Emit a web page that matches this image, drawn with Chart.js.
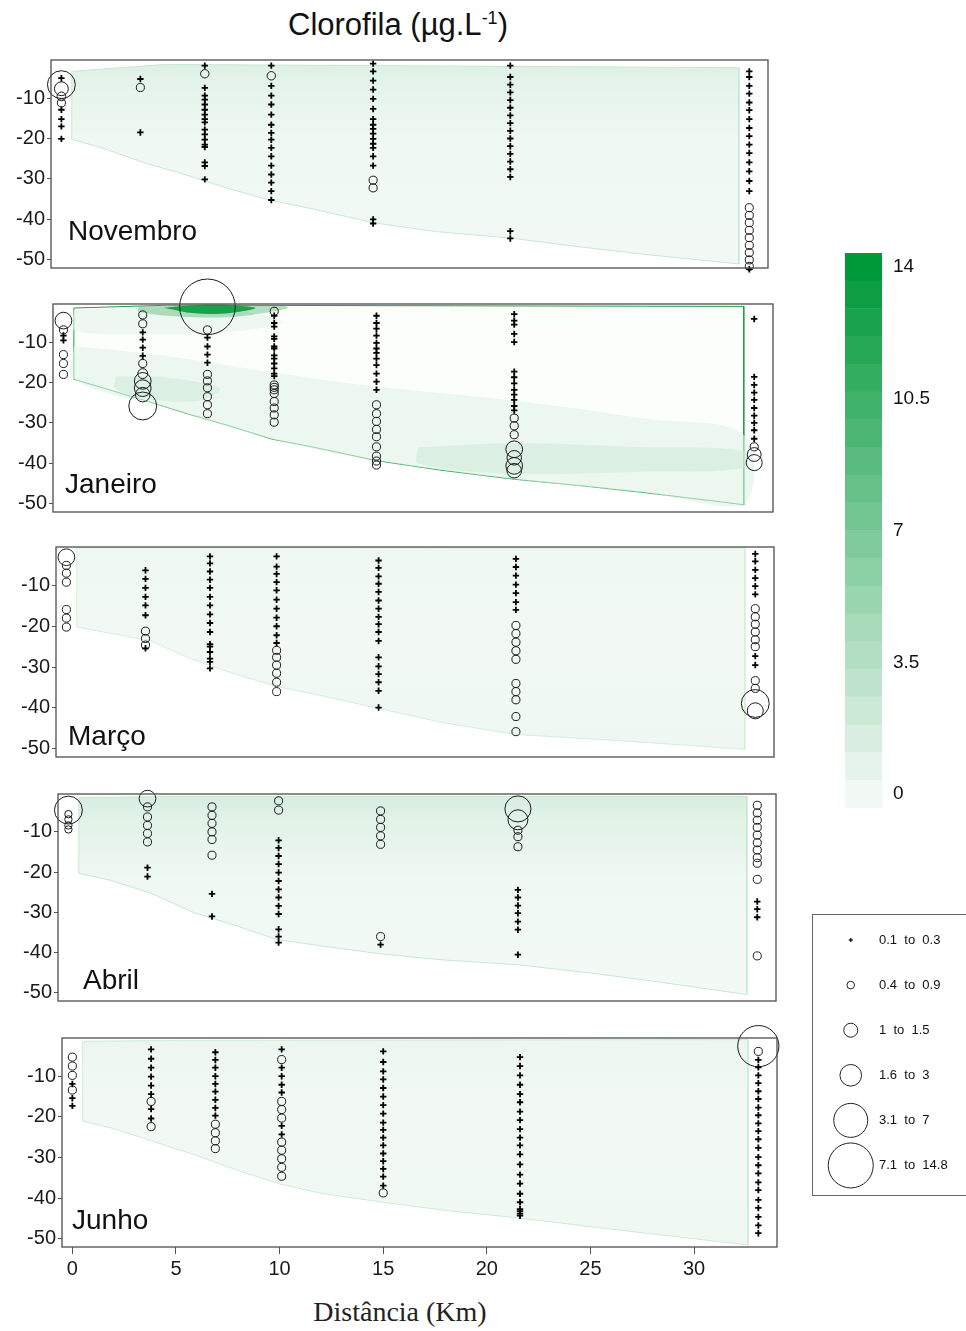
<!DOCTYPE html>
<html>
<head>
<meta charset="utf-8">
<script src="https://cdn.jsdelivr.net/npm/chart.js"></script>
<style>
    body { margin: 0; width: 966px; height: 1331px; position: relative; overflow: hidden; background: #fff; font-family: Arial, "Liberation Sans", sans-serif; }
    canvas { position: absolute; }
    #title { position: absolute; left: 0; width: 796px; top: 0px; line-height: 36px; text-align: center; font-size: 31px; color: #111; }
    #title sup { font-size: 18px; }
    #xlabel { position: absolute; left: 0; width: 800px; top: 1296px; text-align: center; font-family: "Liberation Serif", "Times New Roman", serif; font-size: 28px; color: #222; }
    #legendFrame { position: absolute; left: 812px; top: 914px; width: 220px; height: 280px; border: 1px solid #666; }
</style>
</head>
<body>
<div id="title">Clorofila (µg.L<sup>-1</sup>)</div>
<div id="xlabel">Distância (Km)</div>
<div id="legendFrame"></div>

<script>
// Station positions along the transect (km)
const stationKm = [0, 3.8, 6.9, 10.1, 15, 21.6, 33.1];

// Axis ticks
const kmTicks = [0, 5, 10, 15, 20, 25, 30];
const depthTicks = [-10, -20, -30, -40, -50];

// Samples per station, [depth (m), chlorophyll (µg/L)]
const novSamples = [
    [[-5.1,.2],[-6.7,6.3],[-7.7,2.4],[-9.6,1.0],[-11.2,.8],[-12.9,.2],[-15.2,.2],[-17.0,.2],[-20.1,.2]],
    [[-5.3,.2],[-7.4,.8],[-18.5,.2]],
    [[-2.0,.2],[-4.0,.9],[-7.5,.2],[-9.4,.2],[-10.4,.2],[-11.6,.2],[-12.9,.2],[-14.1,.2],[-15.2,.2],[-16.0,.2],[-17.8,.2],[-19.0,.2],[-20.3,.2],[-21.5,.2],[-22.1,.2],[-25.9,.2],[-26.8,.2],[-30.1,.2]],
    [[-2.0,.2],[-4.5,.9],[-7.0,.2],[-9.4,.2],[-11.6,.2],[-14.1,.2],[-16.6,.2],[-18.6,.2],[-20.3,.2],[-22.3,.2],[-24.4,.2],[-26.7,.2],[-28.9,.2],[-30.9,.2],[-33.0,.2],[-35.2,.2]],
    [[-1.5,.2],[-3.4,.2],[-5.7,.2],[-7.9,.2],[-10.2,.2],[-12.7,.2],[-15.2,.2],[-16.6,.2],[-17.6,.2],[-18.8,.2],[-20.1,.2],[-21.3,.2],[-22.3,.2],[-24.4,.2],[-26.7,.2],[-30.3,.8],[-32.2,.8],[-40.0,.2],[-41.0,.2]],
    [[-2.0,.2],[-4.8,.2],[-6.7,.2],[-8.6,.2],[-10.5,.2],[-12.4,.2],[-14.3,.2],[-16.2,.2],[-18.1,.2],[-20.0,.2],[-21.9,.2],[-23.8,.2],[-25.7,.2],[-27.6,.2],[-29.5,.2],[-42.9,.2],[-44.7,.2]],
    [[-3.4,.2],[-4.8,.2],[-7.0,.2],[-8.9,.2],[-11.1,.2],[-13.0,.2],[-15.2,.2],[-17.4,.2],[-19.4,.2],[-21.5,.2],[-23.6,.2],[-25.9,.2],[-28.1,.2],[-30.5,.2],[-33.0,.2],[-37.1,.8],[-39.0,.8],[-40.8,.8],[-42.7,.8],[-44.5,.8],[-46.4,.8],[-48.2,.8],[-50.0,.8],[-51.6,.8],[-52.3,.2]]
];

const janSamples = [
    [[-4.7,3.2],[-7.0,.8],[-8.4,.2],[-9.6,.2],[-13.1,.8],[-15.3,.8],[-18.0,.8]],
    [[-3.3,.8],[-5.5,.8],[-7.6,.2],[-9.4,.2],[-11.4,.2],[-13.4,.2],[-15.3,.8],[-17.8,1.3],[-19.6,3.2],[-21.4,3.2],[-23.0,2.6],[-25.8,6.3]],
    [[-1.3,14],[-7.0,.8],[-8.9,.2],[-11.1,.2],[-13.1,.2],[-15.1,.2],[-18.0,.8],[-19.6,.8],[-21.3,.8],[-23.5,.8],[-25.5,.8],[-27.7,.8]],
    [[-2.4,.8],[-3.5,.2],[-5.3,.2],[-6.2,.2],[-8.6,.2],[-9.2,.2],[-11.1,.2],[-11.6,.2],[-13.3,.2],[-14.1,.2],[-15.3,.2],[-16.5,.2],[-17.8,.2],[-18.4,.2],[-20.6,.8],[-21.2,.8],[-21.8,.8],[-22.7,.8],[-24.7,.8],[-26.3,.8],[-28.0,.8],[-29.8,.8]],
    [[-3.5,.2],[-5.3,.2],[-6.7,.2],[-8.4,.2],[-10.2,.2],[-11.6,.2],[-12.7,.2],[-14.1,.2],[-15.7,.2],[-17.8,.2],[-19.8,.2],[-21.8,.2],[-25.5,.8],[-27.7,.8],[-29.6,.8],[-31.6,.8],[-33.4,.8],[-35.9,.8],[-38.2,.8],[-39.4,.8],[-40.4,.8]],
    [[-3.1,.2],[-4.7,.2],[-5.7,.2],[-8.0,.2],[-10.0,.2],[-17.3,.2],[-18.7,.2],[-20.2,.2],[-21.8,.2],[-23.0,.2],[-24.3,.2],[-25.8,.2],[-26.9,.2],[-28.8,.8],[-30.7,.8],[-32.9,.8],[-36.5,3.2],[-38.6,2.6],[-40.6,3.2],[-41.8,2.6]],
    [[-4.3,.2],[-18.6,.2],[-20.6,.2],[-22.5,.2],[-24.3,.2],[-26.3,.2],[-28.2,.2],[-30.0,.2],[-31.8,.2],[-33.9,.2],[-35.9,.8],[-37.8,2.4],[-39.8,3.0]]
];

const marSamples = [
    [[-3.1,3.2],[-5.1,.8],[-7.0,.8],[-9.2,.8],[-15.9,.8],[-18.0,.8],[-20.2,.8]],
    [[-6.3,.2],[-8.4,.2],[-10.6,.2],[-12.8,.2],[-14.9,.2],[-17.3,.2],[-21.2,.8],[-23.0,.8],[-24.6,.8],[-25.4,.2]],
    [[-2.9,.2],[-4.6,.2],[-6.6,.2],[-8.6,.2],[-10.6,.2],[-12.8,.2],[-14.9,.2],[-17.1,.2],[-19.2,.2],[-21.4,.2],[-24.4,.2],[-25.0,.2],[-26.3,.2],[-27.9,.2],[-28.7,.2],[-30.3,.2]],
    [[-2.9,.2],[-5.4,.2],[-7.2,.2],[-9.2,.2],[-11.2,.2],[-13.5,.2],[-15.7,.2],[-17.9,.2],[-20.0,.2],[-22.2,.2],[-24.1,.2],[-25.9,.8],[-27.6,.8],[-29.5,.8],[-31.5,.8],[-33.7,.8],[-36.0,.8]],
    [[-3.9,.2],[-5.7,.2],[-7.8,.2],[-9.6,.2],[-11.6,.2],[-13.7,.2],[-15.7,.2],[-17.7,.2],[-19.5,.2],[-21.4,.2],[-23.6,.2],[-27.6,.2],[-29.8,.2],[-31.7,.2],[-33.7,.2],[-35.8,.2],[-39.9,.2]],
    [[-3.5,.2],[-5.5,.2],[-7.6,.2],[-9.8,.2],[-11.9,.2],[-14.1,.2],[-16.0,.2],[-19.8,.8],[-21.8,.8],[-23.9,.8],[-26.0,.8],[-28.1,.8],[-34.0,.8],[-36.0,.8],[-38.0,.8],[-42.1,.8],[-45.8,.8]],
    [[-2.3,.2],[-4.1,.2],[-6.2,.2],[-8.2,.2],[-10.2,.2],[-12.2,.2],[-15.7,.8],[-17.7,.8],[-19.5,.8],[-21.4,.8],[-23.3,.8],[-25.0,.8],[-27.3,.2],[-29.5,.2],[-33.3,.8],[-35.2,.8],[-38.9,6.3],[-40.7,3.0]]
];

const abrSamples = [
    [[-4.6,6.3],[-5.6,.6],[-6.9,.6],[-8.4,.6],[-9.4,.6]],
    [[-1.75,3.2],[-3.8,.8],[-6.3,.8],[-8.4,.8],[-10.4,.8],[-12.5,.8],[-18.9,.2],[-21.1,.2]],
    [[-3.8,.8],[-5.9,.8],[-7.9,.8],[-10.0,.8],[-11.9,.8],[-15.8,.8],[-25.4,.2],[-31.0,.2]],
    [[-2.3,.8],[-4.6,.8],[-12.1,.2],[-14.0,.2],[-16.0,.2],[-18.0,.2],[-20.1,.2],[-22.2,.2],[-24.3,.2],[-26.3,.2],[-28.4,.2],[-30.4,.2],[-34.2,.2],[-36.0,.2],[-37.5,.2]],
    [[-4.8,.8],[-6.9,.8],[-8.9,.8],[-11.0,.8],[-13.1,.8],[-36.0,.8],[-38.0,.2]],
    [[-4.3,5.8],[-7.0,4.1],[-9.6,.8],[-11.2,.8],[-13.7,.8],[-24.4,.2],[-26.3,.2],[-28.3,.2],[-30.2,.2],[-32.3,.2],[-34.3,.2],[-40.5,.2]],
    [[-3.4,.8],[-5.3,.8],[-7.1,.8],[-8.9,.8],[-10.8,.8],[-12.7,.8],[-14.5,.8],[-16.4,.8],[-17.8,.8],[-21.8,.8],[-27.3,.2],[-29.2,.2],[-31.2,.2],[-40.8,.8]]
];

const junSamples = [
    [[-5.3,.8],[-7.5,.8],[-9.8,.8],[-11.9,.2],[-13.4,.8],[-15.4,.2],[-17.3,.2]],
    [[-3.4,.2],[-5.7,.2],[-7.9,.2],[-10.1,.2],[-12.3,.2],[-14.4,.2],[-16.2,.8],[-18.1,.2],[-20.4,.2],[-22.4,.8]],
    [[-4.1,.2],[-6.0,.2],[-7.9,.2],[-10.0,.2],[-11.9,.2],[-13.8,.2],[-15.8,.2],[-17.8,.2],[-19.7,.2],[-21.8,.8],[-23.9,.8],[-25.9,.8],[-27.8,.8]],
    [[-3.4,.2],[-5.9,.8],[-7.9,.2],[-10.0,.2],[-12.1,.2],[-14.0,.2],[-16.2,.8],[-18.2,.8],[-20.3,.8],[-22.2,.2],[-24.3,.2],[-26.2,.8],[-28.2,.8],[-30.3,.8],[-32.4,.8],[-34.6,.8]],
    [[-3.9,.2],[-6.5,.2],[-8.8,.2],[-10.8,.2],[-12.9,.2],[-15.0,.2],[-17.1,.2],[-19.2,.2],[-21.4,.2],[-23.2,.2],[-25.1,.2],[-27.0,.2],[-29.0,.2],[-30.9,.2],[-32.8,.2],[-34.7,.2],[-36.9,.2],[-38.7,.8]],
    [[-5.3,.2],[-7.5,.2],[-9.8,.2],[-12.1,.2],[-14.4,.2],[-16.4,.2],[-18.7,.2],[-20.8,.2],[-23.0,.2],[-25.1,.2],[-27.0,.2],[-29.2,.2],[-31.7,.2],[-34.2,.2],[-36.4,.2],[-38.9,.2],[-41.0,.2],[-42.7,.2],[-43.2,.2],[-43.8,.2],[-44.3,.2]],
    [[-2.6,10],[-3.9,.8],[-6.0,.2],[-7.8,.2],[-9.8,.2],[-11.7,.2],[-13.7,.2],[-15.6,.2],[-17.7,.2],[-19.6,.2],[-21.6,.2],[-23.5,.2],[-25.5,.2],[-27.6,.2],[-29.9,.2],[-31.9,.2],[-33.9,.2],[-36.1,.2],[-38.0,.2],[-40.4,.2],[-42.4,.2],[-44.6,.2],[-46.7,.2],[-48.6,.2]]
];

// Interpolated section outline: surface and bottom depth along the transect
const surfaceKm = [0.5, 5, 32.6];
const novTop = [-3.4, -1.7, -2.5];
const janTop = [-1.6, -0.9, -1.2];
const marTop = [-0.8, -0.8, -0.9];
const abrTop = [-1.5, -1.2, -1.2];
const junTop = [-1.4, -1.2, -1.0];

const bottomKm = [0.5, 2, 4, 6, 8, 10, 12, 15, 18, 21.6, 25, 28, 32.6];
const novBottom = [-20.2, -22.4, -26, -29, -32.3, -35.2, -37.3, -40.8, -43, -44.6, -46.8, -48.6, -51];
const janBottom = [-19.2, -21.5, -24.6, -27.8, -30.8, -34, -36, -39.3, -41.6, -43.9, -45.6, -47.3, -50.2];
const marBottom = [-20.2, -21.6, -23.5, -28, -31.5, -34.6, -36.7, -40.1, -43.5, -46.5, -47.5, -48.5, -50.1];
const abrBottom = [-20.3, -22, -25.3, -30, -33.2, -36.7, -38.2, -40.3, -41.8, -43, -45, -47, -50.4];
const junBottom = [-21, -22.9, -26.2, -29.5, -33.2, -36.5, -38.8, -41, -43, -44.9, -47, -48.8, -51.5];

// Janeiro contour patches
const janSurfKm = [0.5, 4, 8, 10.5, 8, 4, 0.5];
const janSurfDepth = [-2, -1.5, -2, -5, -7.5, -8, -7];
const janBandKm = [0.5, 5, 10, 15, 21.6, 28, 32.6, 32.6, 28, 21.6, 15, 10, 5, 0.5];
const janBandDepth = [-11, -13.5, -17.5, -21, -24.5, -29, -33, -50.2, -47.3, -43.9, -39.3, -34, -26.3, -19.2];
const janPatchKm = [2.5, 5, 7.5, 6.5, 4, 2.5];
const janPatchDepth = [-18.5, -18.8, -21.5, -24.5, -24, -21.5];
const janCoreKm = [17, 21.6, 28, 32.6, 32.6, 28, 21.6, 17];
const janCoreDepth = [-36, -35, -36, -37, -41, -42, -42.5, -40];
const janHaloKm = [3.6, 6, 8.5, 10.8, 8.5, 6, 3.6];
const janHaloDepth = [-1.2, -0.7, -0.7, -1.4, -3.6, -3.8, -2.6];
const janHotKm = [4.8, 6.3, 8, 9.2, 8, 6.3];
const janHotDepth = [-1.5, -0.9, -0.9, -1.6, -2.8, -2.9];

// Colour scale
const levelValues = [0, 0.74, 1.47, 2.21, 2.95, 3.68, 4.42, 5.16, 5.89, 6.63, 7.37, 8.11, 8.84, 9.58, 10.32, 11.05, 11.79, 12.53, 13.26, 14];
const levelColors = ['#f2f8f4', '#e5f3ea', '#d9eee0', '#cce9d6', '#bfe4cd', '#b2dfc3', '#a6dab9', '#99d5af', '#8cd0a5', '#7fcb9b',
                     '#73c692', '#66c188', '#59bc7e', '#4cb774', '#40b26a', '#33ad60', '#26a857', '#19a34d', '#0d9e43', '#009939'];
const levelTicks = [0, 3.5, 7, 10.5, 14];

// Size legend
const legendLabels = ['0.1  to  0.3', '0.4  to  0.9', '1  to  1.5', '1.6  to  3', '3.1  to  7', '7.1  to  14.8'];
const legendRadius = [2, 3.8, 7, 10.8, 17, 22.5];

// Layout
const AXIS_W = 60, PAD = 40;
const X_MIN = -0.5, X_MAX = 34.0, Y_MIN = -52, Y_MAX = -0.6;

const panels = [
    { label: 'Novembro', samples: novSamples, top: novTop, bottom: novBottom,
      box: { left: 51, top: 60, w: 717, h: 208 }, lx: 17, ly: 28, edge: '#c6e8d2',
      stops: [[0, '#dcf0e3'], [0.15, '#e6f4eb'], [0.4, '#f0f8f3'], [1, '#f2f9f4']] },
    { label: 'Janeiro', samples: janSamples, top: janTop, bottom: janBottom,
      box: { left: 53, top: 304, w: 720, h: 208 }, lx: 12, ly: 19, edge: '#1f9e48',
      stops: [[0, '#fcfefc'], [1, '#fcfefc']] },
    { label: 'Março', samples: marSamples, top: marTop, bottom: marBottom,
      box: { left: 56, top: 547, w: 718, h: 210 }, lx: 12, ly: 12, edge: '#d3eedc',
      stops: [[0, '#f0f8f2'], [0.5, '#f2f9f4'], [1, '#eef7f1']] },
    { label: 'Abril', samples: abrSamples, top: abrTop, bottom: abrBottom,
      box: { left: 58, top: 794, w: 718, h: 207 }, lx: 25, ly: 12, edge: '#c6e8d2',
      stops: [[0, '#d6ede0'], [0.12, '#e1f2e7'], [0.4, '#eff8f2'], [1, '#f4faf6']] },
    { label: 'Junho', samples: junSamples, top: junTop, bottom: junBottom,
      box: { left: 62, top: 1038, w: 715, h: 209 }, lx: 10, ly: 18, edge: '#cdebd7',
      stops: [[0, '#ecf6ef'], [0.3, '#f2f9f4'], [1, '#f0f8f2']] }
];

const janPatches = [
    { km: janBandKm, depth: janBandDepth, color: 'rgba(225,242,231,0.6)' },
    { km: janSurfKm, depth: janSurfDepth, color: 'rgba(228,243,233,0.6)' },
    { km: janPatchKm, depth: janPatchDepth, color: 'rgba(205,234,215,0.55)' },
    { km: janCoreKm, depth: janCoreDepth, color: 'rgba(205,234,215,0.55)' },
    { km: janHaloKm, depth: janHaloDepth, color: 'rgba(70,175,110,0.4)' },
    { km: janHotKm, depth: janHotDepth, color: 'rgba(0,150,55,0.85)' }
];

Chart.defaults.font.family = 'Arial, "Liberation Sans", sans-serif';
Chart.defaults.color = '#1a1a1a';

// Frame around the plot area and month name
const panelDecor = {
    id: 'panelDecor',
    afterDatasetsDraw(chart, args, opts) {
        if (!opts.label) return;
        const { ctx, chartArea: a } = chart;
        ctx.save();
        ctx.strokeStyle = '#4d4d4d';
        ctx.lineWidth = 1.3;
        ctx.strokeRect(a.left, a.top, a.right - a.left, a.bottom - a.top);
        ctx.fillStyle = '#111';
        ctx.font = '28px Arial, "Liberation Sans", sans-serif';
        ctx.textBaseline = 'alphabetic';
        ctx.fillText(opts.label, a.left + opts.dx, a.bottom - opts.dy);
        ctx.restore();
    }
};

function radiusFor(chl) {
    return 2.6 + 1.8 * chl;
}

// Outline polygon: surface left->right, bottom right->left, closed
function sectionOutline(top, bottom) {
    const pts = surfaceKm.map((k, i) => ({ x: k, y: top[i] }));
    for (let i = bottomKm.length - 1; i >= 0; i--) {
        pts.push({ x: bottomKm[i], y: bottom[i] });
    }
    pts.push({ x: surfaceKm[0], y: top[0] });
    return pts;
}

function makeCanvas(left, top, width, height) {
    const canvas = document.createElement('canvas');
    canvas.width = width;
    canvas.height = height;
    canvas.style.left = left + 'px';
    canvas.style.top = top + 'px';
    canvas.style.width = width + 'px';
    canvas.style.height = height + 'px';
    document.body.appendChild(canvas);
    return canvas;
}

function buildPanel(p, isLast) {
    const plus = [], circles = [], radii = [];
    p.samples.forEach((samples, i) => {
        samples.forEach(([depth, chl]) => {
            if (chl <= 0.3) {
                plus.push({ x: stationKm[i], y: depth });
            } else {
                circles.push({ x: stationKm[i], y: depth });
                radii.push(radiusFor(chl));
            }
        });
    });

    const datasets = [
        { data: plus, pointStyle: 'cross', pointRadius: 3.2, pointBorderWidth: 1.8,
          pointBorderColor: '#000', showLine: false, clip: false, order: 0 },
        { data: circles, pointStyle: 'circle', pointRadius: radii, pointBorderWidth: 1,
          pointBorderColor: '#1a1a1a', pointBackgroundColor: 'rgba(0,0,0,0)', showLine: false, clip: false, order: 0 },
        { data: sectionOutline(p.top, p.bottom), showLine: true, fill: 'shape', tension: 0,
          pointRadius: 0, borderWidth: 1, borderColor: p.edge, order: 20,
          backgroundColor: function(context) {
              const area = context.chart.chartArea;
              if (!area) return p.stops[0][1];
              const g = context.chart.ctx.createLinearGradient(0, area.top, 0, area.bottom);
              p.stops.forEach(([o, c]) => g.addColorStop(o, c));
              return g;
          } }
    ];

    if (p.label === 'Janeiro') {
        janPatches.forEach((patch, i) => {
            const pts = patch.km.map((k, j) => ({ x: k, y: patch.depth[j] }));
            pts.push(pts[0]);
            datasets.push({ data: pts, showLine: true, fill: 'shape', tension: 0.35, pointRadius: 0,
                            borderWidth: 0, borderColor: 'rgba(0,0,0,0)', backgroundColor: patch.color, order: 19 - i });
        });
    }

    const b = p.box;
    const canvas = makeCanvas(b.left - AXIS_W, b.top - PAD, b.w + AXIS_W + PAD, b.h + 2 * PAD);

    new Chart(canvas, {
        type: 'scatter',
        data: { datasets: datasets },
        options: {
            responsive: false,
            animation: false,
            events: [],
            layout: { padding: { left: 0, top: PAD, right: PAD, bottom: isLast ? 0 : PAD } },
            scales: {
                x: {
                    type: 'linear', min: X_MIN, max: X_MAX, display: isLast,
                    afterBuildTicks: s => { s.ticks = kmTicks.map(v => ({ value: v })); },
                    afterFit: s => { s.height = isLast ? PAD : 0; },
                    grid: { drawOnChartArea: false, drawTicks: true, tickLength: 7, color: '#555' },
                    border: { display: false },
                    ticks: { font: { size: 20 }, padding: 3, maxRotation: 0, autoSkip: false }
                },
                y: {
                    type: 'linear', min: Y_MIN, max: Y_MAX,
                    afterBuildTicks: s => { s.ticks = depthTicks.map(v => ({ value: v })); },
                    afterFit: s => { s.width = AXIS_W; },
                    grid: { drawOnChartArea: false, drawTicks: true, tickLength: 4, color: '#555' },
                    border: { display: false },
                    ticks: { font: { size: 20 }, padding: 2 }
                }
            },
            plugins: {
                legend: { display: false },
                tooltip: { enabled: false },
                panelDecor: { label: p.label, dx: p.lx, dy: p.ly }
            }
        },
        plugins: [panelDecor]
    });
}

// Colour bar
function buildColorBar() {
    const edges = levelValues.map((v, i) => {
        const lo = i === 0 ? v - (levelValues[1] - levelValues[0]) / 2 : (levelValues[i - 1] + v) / 2;
        const hi = i === levelValues.length - 1 ? v + (v - levelValues[i - 1]) / 2 : (v + levelValues[i + 1]) / 2;
        return [lo, hi];
    });
    const canvas = makeCanvas(845, 228, 97, 605);
    new Chart(canvas, {
        type: 'bar',
        data: {
            labels: ['chl'],
            datasets: edges.map((e, i) => ({
                data: [e], backgroundColor: levelColors[i], borderWidth: 0,
                barPercentage: 1, categoryPercentage: 1, grouped: false
            }))
        },
        options: {
            responsive: false,
            animation: false,
            events: [],
            layout: { padding: { left: 0, top: 25, right: 0, bottom: 25 } },
            scales: {
                x: { display: false },
                y: {
                    position: 'right', min: edges[0][0], max: edges[edges.length - 1][1],
                    afterBuildTicks: s => { s.ticks = levelTicks.map(v => ({ value: v })); },
                    afterFit: s => { s.width = 60; },
                    grid: { display: false, drawTicks: false },
                    border: { display: false },
                    ticks: { font: { size: 19 }, color: '#111', padding: 11 }
                }
            },
            plugins: { legend: { display: false }, tooltip: { enabled: false } }
        }
    });
}

// Size legend
function buildSizeLegend() {
    const canvas = makeCanvas(812, 894, 154, 318);
    new Chart(canvas, {
        type: 'scatter',
        data: {
            datasets: [{
                data: legendLabels.map(l => ({ x: 0, y: l })),
                pointStyle: legendLabels.map((l, i) => i === 0 ? 'cross' : 'circle'),
                pointRadius: legendRadius,
                pointBorderWidth: legendLabels.map((l, i) => i === 0 ? 1.5 : 1),
                pointBorderColor: '#222',
                pointBackgroundColor: 'rgba(0,0,0,0)',
                clip: false
            }]
        },
        options: {
            responsive: false,
            animation: false,
            events: [],
            layout: { padding: { left: 6, top: 23, right: 0, bottom: 24 } },
            scales: {
                x: { type: 'linear', min: -1, max: 1, display: false },
                y: {
                    type: 'category', labels: legendLabels, position: 'right', offset: true,
                    afterFit: s => { s.width = 100; },
                    grid: { display: false, drawTicks: false },
                    border: { display: false },
                    ticks: { font: { size: 13 }, color: '#111', padding: 13 }
                }
            },
            plugins: { legend: { display: false }, tooltip: { enabled: false } }
        }
    });
}

panels.forEach((p, i) => buildPanel(p, i === panels.length - 1));
buildColorBar();
buildSizeLegend();
</script>
</body>
</html>
